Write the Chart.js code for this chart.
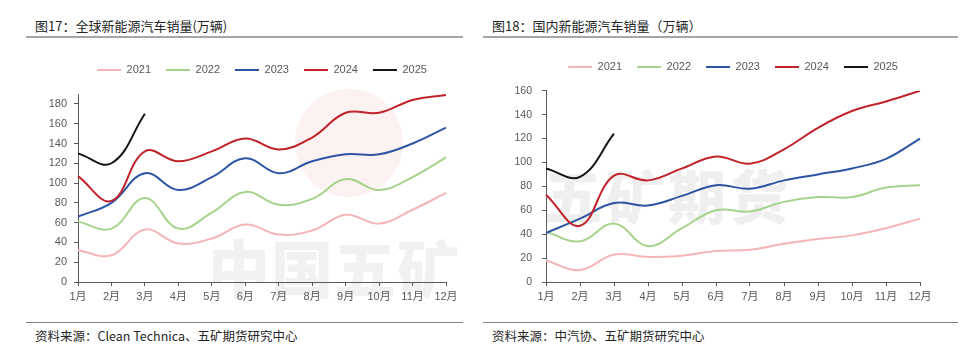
<!DOCTYPE html>
<html>
<head>
<meta charset="utf-8">
<script src="https://cdn.jsdelivr.net/npm/chart.js@4.4.1/dist/chart.umd.min.js"></script>
<style>
  html, body { margin:0; padding:0; background:#fff; }
  body { width:970px; height:350px; position:relative; overflow:hidden; font-family:"Liberation Sans","Noto Sans CJK SC",sans-serif; }
  .title { position:absolute; top:17px; font-family:"Noto Sans CJK SC",sans-serif; font-size:13px; line-height:18px; color:#262626; white-space:nowrap; }
  .uline { position:absolute; top:36px; height:2px; background:#a6a6a6; }
  .fline { position:absolute; top:322px; height:1px; background:#808080; }
  .foot { position:absolute; top:327px; font-family:"Noto Sans CJK SC",sans-serif; font-size:12.5px; line-height:18px; color:#262626; white-space:nowrap; }
  .wm { position:absolute; font-family:"Noto Sans CJK SC",sans-serif; font-weight:900; color:#f1f1f1; white-space:nowrap; z-index:0; }
  canvas { position:absolute; z-index:1; }
  .logo { position:absolute; border-radius:50%; background:#fdf2f2; z-index:0; }
</style>
</head>
<body>
<div class="title" style="left:35px;">图17：全球新能源汽车销量(万辆)</div>
<div class="uline" style="left:26px;width:437px;"></div>
<div class="title" style="left:492px;">图18：国内新能源汽车销量（万辆）</div>
<div class="uline" style="left:483px;width:475px;"></div>

<div class="logo" style="left:295px;top:89px;width:108px;height:108px;"></div>
<div class="wm" style="left:208px;top:226px;font-size:62px;line-height:80px;letter-spacing:1px;">中国五矿</div>
<div class="wm" style="left:544px;top:154px;font-size:58px;line-height:80px;letter-spacing:4px;color:#efefef;">五矿期货</div>

<canvas id="c1" width="455" height="270" style="left:30px;top:45px;"></canvas>
<canvas id="c2" width="455" height="270" style="left:498px;top:45px;"></canvas>

<div class="fline" style="left:26px;width:437px;"></div>
<div class="foot" style="left:35px;">资料来源：Clean Technica、五矿期货研究中心</div>
<div class="fline" style="left:483px;width:475px;"></div>
<div class="foot" style="left:492px;">资料来源：中汽协、五矿期货研究中心</div>

<script>
// ---- data ----
const months = ['1月','2月','3月','4月','5月','6月','7月','8月','9月','10月','11月','12月'];
const years = ['2021','2022','2023','2024','2025'];

// Global NEV sales (10k units)
const global2021 = [32, 27, 53, 39, 44, 58, 48, 52, 68, 59, 73, 90];
const global2022 = [61, 54, 85, 54, 70, 91, 78, 84, 104, 93, 106, 126];
const global2023 = [66, 80, 110, 93, 106, 125, 110, 122, 129, 129, 140, 156];
const global2024 = [107, 82, 132, 122, 132, 145, 134, 146, 171, 171, 184, 189];
const global2025 = [130, 120, 170];

// Domestic NEV sales (10k units)
const china2021 = [18, 10, 23, 21, 22, 26, 27, 32, 36, 39, 45, 53];
const china2022 = [42, 34, 49, 30, 45, 60, 59, 67, 71, 71, 79, 81];
const china2023 = [41, 53, 66, 64, 72, 81, 78, 85, 90, 95, 103, 120];
const china2024 = [73, 47, 89, 85, 95, 105, 99, 111, 129, 143, 151, 160];
const china2025 = [95, 88, 124];

const leftTicks = [0, 20, 40, 60, 80, 100, 120, 140, 160, 180];
const rightTicks = [0, 20, 40, 60, 80, 100, 120, 140, 160];

const colors = ['#F4B5B7', '#A6D38C', '#2E55A3', '#C1232B', '#151515'];
const FONT = '"Liberation Sans","Noto Sans CJK SC",sans-serif';
const AXIS = '#595959';
const TXT = '#595959';

function makeDatasets(series) {
  return series.map((d, i) => ({
    label: years[i],
    data: d,
    borderColor: colors[i],
    backgroundColor: colors[i],
    borderWidth: 2,
    pointRadius: 0,
    pointHoverRadius: 0,
    tension: 0.4,
    fill: false,
    order: 5 - i
  }));
}

function legendGap(extra) {
  return {
    id: 'legendGap',
    beforeLayout(chart) {
      const lg = chart.legend;
      if (lg && !lg._gapPatched) {
        const f = lg.fit.bind(lg);
        lg.fit = function () { f(); this.height += extra; };
        lg._gapPatched = true;
      }
    }
  };
}

function makeChart(id, series, maxV, tickList, opts) {
  return new Chart(document.getElementById(id), {
    type: 'line',
    data: { labels: months, datasets: makeDatasets(series) },
    plugins: [legendGap(opts.gap)],
    options: {
      responsive: false,
      animation: false,
      events: [],
      layout: { padding: { top: opts.padTop, right: opts.padRight, left: 0, bottom: 0 } },
      plugins: {
        tooltip: { enabled: false },
        legend: {
          position: 'top',
          fullSize: false,
          labels: {
            usePointStyle: true,
            pointStyle: 'line',
            pointStyleWidth: 24,
            padding: 15,
            color: TXT,
            font: { family: FONT, size: 11 },
            sort: (a, b) => a.datasetIndex - b.datasetIndex
          }
        }
      },
      scales: {
        x: {
          offset: false,
          grid: { drawOnChartArea: false, drawTicks: true, tickLength: 4, color: AXIS },
          border: { display: true, color: AXIS, width: 1 },
          ticks: { color: TXT, font: { family: FONT, size: 11 }, padding: 4, maxRotation: 0, autoSkip: false },
          afterFit(s) { s.height = 33; }
        },
        y: {
          min: 0,
          max: maxV,
          grid: { drawOnChartArea: false, drawTicks: true, tickLength: 4, color: AXIS },
          border: { display: true, color: AXIS, width: 1 },
          ticks: { color: TXT, font: { family: FONT, size: opts.yFont }, padding: opts.yPad },
          afterBuildTicks(s) { s.ticks = tickList.map(v => ({ value: v })); },
          afterFit(s) { s.width = 48; }
        }
      }
    }
  });
}

makeChart('c1', [global2021, global2022, global2023, global2024, global2025], 190, leftTicks,
  { padTop: 4.5, padRight: 39, gap: 8.5, yFont: 11, yPad: 7 });
makeChart('c2', [china2021, china2022, china2023, china2024, china2025], 160, rightTicks,
  { padTop: 1.5, padRight: 33, gap: 8.2, yFont: 10.5, yPad: 10 });
</script>
</body>
</html>
